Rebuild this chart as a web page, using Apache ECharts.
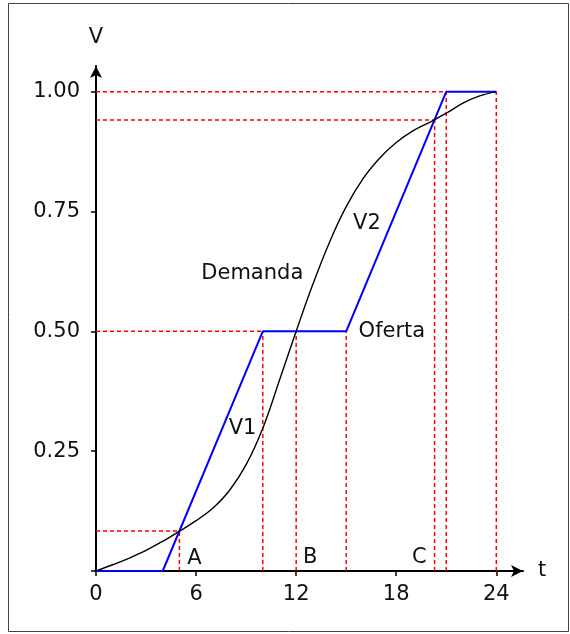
<!DOCTYPE html>
<html>
<head>
<meta charset="utf-8">
<script src="https://cdn.jsdelivr.net/npm/echarts@6/dist/echarts.min.js"></script>
<style>
html,body{margin:0;padding:0;background:#fff;}
#chart{width:570px;height:634px;}
</style>
</head>
<body>
<div id="chart"></div>
<script>
// Demand curve (Demanda)
const demandT = [0,1,2,3,4,5,6,7,8,9,10,11,12,13,14,15,16,17,18,19,20,21,22,23,24];
const demandV = [0,0.013,0.027,0.043,0.062,0.083,0.105,0.131,0.168,0.222,0.298,0.398,0.500,0.598,0.686,0.760,0.818,0.861,0.894,0.918,0.936,0.955,0.976,0.991,1.0];
// Supply curve (Oferta)
const supplyT = [0,4,10,15,21,24];
const supplyV = [0,0,0.5,0.5,1,1];
// Guide lines: horizontal [level, extends to t], vertical [t, up to level]
const guideH = [[0.0833,5],[0.5,10],[0.941,20.3],[1,21]];
const guideV = [[5,0.0833],[10,0.5],[12,0.5],[15,0.5],[20.3,0.941],[21,1],[24,1]];
// Tick values
const xTicks = [0,6,12,18,24];
const yTicks = [0,0.25,0.5,0.75,1];
const yLabels = [0.25,0.5,0.75,1];
// Text annotations [t, v, text]
const pointLabels = [[5.9,0.026,'A'],[12.84,0.028,'B'],[19.38,0.028,'C']];
const curveLabels = [[9.37,0.62,'Demanda'],[17.74,0.5,'Oferta'],[8.79,0.298,'V1'],[16.24,0.724,'V2']];

const FONT = 'DejaVu Sans';
const guideData = [];
guideH.forEach(g => { guideData.push([0,g[0]],[g[1],g[0]],[null,null]); });
guideV.forEach(g => { guideData.push([g[0],0],[g[0],g[1]],[null,null]); });

const chart = echarts.init(document.getElementById('chart'), null, {renderer:'canvas'});
const option = {
  animation:false,
  backgroundColor:'#fff',
  graphic:[{type:'rect',shape:{x:8.5,y:3.5,width:560,height:628},style:{fill:'none',stroke:'#444',lineWidth:1},z:-10}],
  grid:{left:96,right:47,top:66,bottom:63,containLabel:false},
  xAxis:{
    type:'value',min:0,max:25.6,
    name:'t',nameLocation:'end',nameGap:15,
    nameTextStyle:{fontFamily:FONT,fontSize:21,color:'#111',verticalAlign:'middle'},
    splitLine:{show:false},
    axisLine:{lineStyle:{color:'#000',width:2},symbol:['none','arrow'],symbolSize:[9,12]},
    axisTick:{customValues:xTicks,length:5,lineStyle:{color:'#000',width:1.5}},
    axisLabel:{customValues:xTicks,margin:13,fontFamily:FONT,fontSize:21,color:'#111'}
  },
  yAxis:{
    type:'value',min:0,max:1.0535,
    name:'V',nameLocation:'end',nameGap:18,
    nameTextStyle:{fontFamily:FONT,fontSize:21,color:'#111',align:'center'},
    splitLine:{show:false},
    axisLine:{lineStyle:{color:'#000',width:2},symbol:['none','arrow'],symbolSize:[9,12]},
    axisTick:{customValues:yTicks,length:5,lineStyle:{color:'#000',width:1.5}},
    axisLabel:{customValues:yLabels,margin:16,fontFamily:FONT,fontSize:21,color:'#111',
      formatter:v=>v.toFixed(2)}
  },
  series:[
    {type:'line',data:guideData,connectNulls:false,symbol:'none',silent:true,
     lineStyle:{color:'#ff0000',width:1.5,type:[4,3]},z:1},
    {type:'line',data:supplyT.map((t,i)=>[t,supplyV[i]]),symbol:'none',
     lineStyle:{color:'#0000ff',width:2},z:2},
    {type:'line',data:demandT.map((t,i)=>[t,demandV[i]]),symbol:'none',smooth:0.4,
     lineStyle:{color:'#000',width:1.4},z:3},
    {type:'scatter',symbolSize:1,itemStyle:{opacity:0},
     data:pointLabels.concat(curveLabels).map(p=>({value:[p[0],p[1]],name:p[2]})),
     label:{show:true,position:'inside',formatter:p=>p.name,fontFamily:FONT,fontSize:21,color:'#111',opacity:1},z:4}
  ]
};
chart.setOption(option);
</script>
</body>
</html>
